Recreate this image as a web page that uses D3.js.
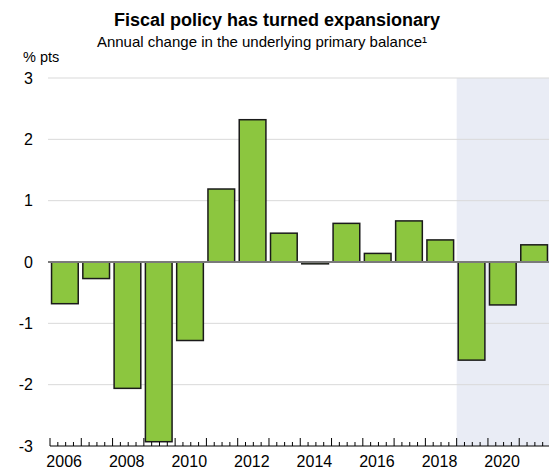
<!DOCTYPE html>
<html>
<head>
<meta charset="utf-8">
<script src="https://cdn.jsdelivr.net/npm/d3@7/dist/d3.min.js"></script>
<style>
  html, body { margin: 0; padding: 0; background: #fff; }
  svg { display: block; font-family: "Liberation Sans", Arial, sans-serif; }
</style>
</head>
<body>
<svg id="chart" width="549" height="470"></svg>
<script>
// Annual change in the underlying primary balance, % pts
const years = [2006, 2007, 2008, 2009, 2010, 2011, 2012, 2013, 2014, 2015, 2016, 2017, 2018, 2019, 2020, 2021];
const changes = [-0.68, -0.27, -2.06, -2.93, -1.28, 1.19, 2.32, 0.47, -0.03, 0.63, 0.14, 0.67, 0.36, -1.60, -0.70, 0.28];
const yTicks = [-3, -2, -1, 0, 1, 2, 3];
const yearLabels = [2006, 2008, 2010, 2012, 2014, 2016, 2018, 2020];
const forecastFrom = 2019;

(function () {
  const svg = d3.select("#chart");
  const W = 549;
  const plotLeft = 50, plotRight = 550.5, plotTop = 78, plotBottom = 446;

  const x = d3.scaleLinear().domain([years[0], years[years.length - 1] + 1]).range([plotLeft, plotRight]);
  const y = d3.scaleLinear().domain([-3, 3]).range([plotBottom, plotTop]);

  // Projection period shading
  svg.append("rect")
    .attr("x", x(forecastFrom)).attr("y", y(3))
    .attr("width", W - x(forecastFrom)).attr("height", y(-3) - y(3))
    .attr("fill", "#e9ecf5");

  // Horizontal gridlines
  svg.append("g").selectAll("line")
    .data(yTicks.filter(d => d !== -3 && d !== 0))
    .join("line")
    .attr("x1", 48).attr("x2", W)
    .attr("y1", d => y(d)).attr("y2", d => y(d))
    .attr("stroke", "#d9d9d9").attr("stroke-width", 1);

  // Y tick labels
  svg.append("g").selectAll("text")
    .data(yTicks)
    .join("text")
    .attr("x", 33).attr("y", d => y(d))
    .attr("dy", "0.35em")
    .attr("text-anchor", "end")
    .attr("font-size", 16)
    .attr("fill", "#000")
    .text(d => d);

  // Bars
  const bw = x(years[0] + 1) - x(years[0]);
  const pad = 0.8;
  svg.append("g").selectAll("rect")
    .data(years.map((yr, i) => ({ yr, v: changes[i] })))
    .join("rect")
    .attr("x", d => x(d.yr) + pad + 0.75)
    .attr("width", bw - 2 * pad - 3)
    .attr("y", d => y(Math.max(0, d.v)))
    .attr("height", d => Math.abs(y(d.v) - y(0)))
    .attr("fill", "#8cc63f")
    .attr("stroke", "#1a1a1a")
    .attr("stroke-width", 1.5);

  // Zero line
  svg.append("line")
    .attr("x1", 48).attr("x2", W)
    .attr("y1", y(0)).attr("y2", y(0))
    .attr("stroke", "#7a7a7a").attr("stroke-width", 2);

  // Bottom axis with quarterly minor ticks
  const quarters = d3.range(years[0], years[years.length - 1] + 1, 0.25);
  const axisY = y(-3);
  svg.append("line")
    .attr("x1", plotLeft).attr("x2", W)
    .attr("y1", axisY).attr("y2", axisY)
    .attr("stroke", "#000").attr("stroke-width", 1);
  svg.append("g").selectAll("line")
    .data(quarters)
    .join("line")
    .attr("x1", d => x(d)).attr("x2", d => x(d))
    .attr("y1", axisY).attr("y2", d => axisY - (Number.isInteger(d) ? 8 : 4))
    .attr("stroke", "#000").attr("stroke-width", 1);

  svg.append("g").selectAll("text")
    .data(yearLabels)
    .join("text")
    .attr("x", d => x(d + 0.5) - 1.5)
    .attr("y", 467)
    .attr("text-anchor", "middle")
    .attr("font-size", 16)
    .attr("fill", "#000")
    .text(d => d);

  // Titles
  svg.append("text")
    .attr("x", 277).attr("y", 26)
    .attr("text-anchor", "middle")
    .attr("font-size", 18).attr("font-weight", "bold")
    .text("Fiscal policy has turned expansionary");
  svg.append("text")
    .attr("x", 262).attr("y", 47)
    .attr("text-anchor", "middle")
    .attr("font-size", 15)
    .text("Annual change in the underlying primary balance¹");
  svg.append("text")
    .attr("x", 23).attr("y", 62)
    .attr("font-size", 14.5)
    .text("% pts");
})();
</script>
</body>
</html>
